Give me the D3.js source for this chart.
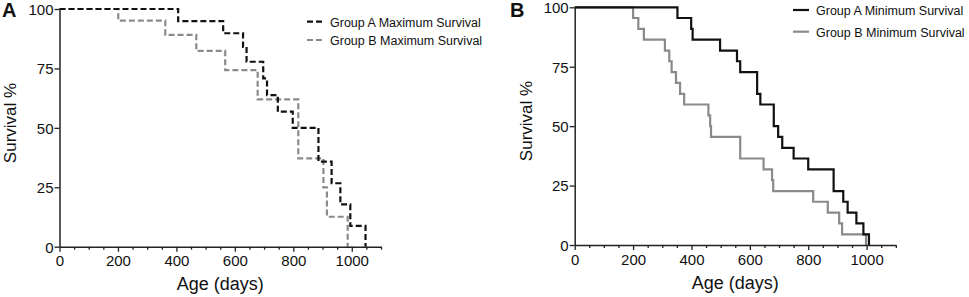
<!DOCTYPE html>
<html lang="en">
<head>
<meta charset="utf-8">
<title>Survival curves</title>
<script src="https://cdn.jsdelivr.net/npm/d3@7"></script>
<style>
  body { margin: 0; background: #fff; }
  svg text { font-family: "Liberation Sans", Arial, sans-serif; fill: #111; }
</style>
</head>
<body>
<script>
// Panel A - maximum survival (days, survival %)
var aMaxDays = [0, 406, 560, 628, 640, 697, 710, 747, 798, 886, 931, 961, 995, 1047];
var aMaxSurv = [100, 94.9, 89.8, 84.1, 77.8, 70.8, 63.8, 56.8, 50, 35.8, 26.7, 17.8, 8.8, 0];
var bMaxDays = [0, 201, 362, 468, 567, 678, 817, 903, 915, 986];
var bMaxSurv = [100, 95.1, 89.1, 82.4, 74.3, 62, 37.2, 25, 12.6, 0];

// Panel B - minimum survival
var aMinDays = [0, 352, 399, 404, 498, 556, 567, 625, 636, 682, 697, 711, 750, 800, 887, 920, 935, 965, 989, 1008];
var aMinSurv = [100, 95.5, 90.9, 86.4, 81.8, 77.3, 72.7, 63.6, 59.1, 50, 45.5, 40.9, 36.4, 31.8, 22.7, 18.2, 13.6, 9.1, 4.5, 0];
var bMinDays = [0, 200, 218, 237, 309, 324, 332, 347, 361, 375, 458, 464, 467, 567, 647, 676, 680, 817, 867, 906, 916, 998];
var bMinSurv = [100, 95.5, 90.9, 86.4, 81.8, 77.3, 72.7, 68.2, 63.6, 59.1, 54.5, 50, 45.5, 36.4, 31.8, 27.3, 22.7, 18.2, 13.6, 9.1, 4.5, 0];

var xMajor = [0, 200, 400, 600, 800, 1000];
var yTicks = [0, 25, 50, 75, 100];

var W = 969, H = 297;
var svg = d3.select('body').append('svg').attr('width', W).attr('height', H);

function zip(days, surv) {
  return days.map(function(d, i) { return { x: d, y: surv[i] }; });
}

var panels = [
  {
    letter: 'A', lx: 2, ly: 17, x0: 59.5, x1: 381, y0: 246.7, y1: 9,
    ylabX: 16, ylabY: 123, xlabY: 290, tickY: 266,
    legX: 307, legY: 21.7, legGap: 18.3,
    series: [
      { name: 'Group A Maximum Survival', data: zip(aMaxDays, aMaxSurv), color: '#111', dash: '6,3' },
      { name: 'Group B Maximum Survival', data: zip(bMaxDays, bMaxSurv), color: '#8a8a8a', dash: '6,3' }
    ]
  },
  {
    letter: 'B', lx: 510, ly: 17, x0: 574.7, x1: 895.8, y0: 245, y1: 7.3,
    ylabX: 532, ylabY: 121, xlabY: 288.5, tickY: 265,
    legX: 793, legY: 10, legGap: 21.7,
    series: [
      { name: 'Group A Minimum Survival', data: zip(aMinDays, aMinSurv), color: '#111', dash: null },
      { name: 'Group B Minimum Survival', data: zip(bMinDays, bMinSurv), color: '#8a8a8a', dash: null }
    ]
  }
];

panels.forEach(function(p) {
  var x = d3.scaleLinear().domain([0, 1100]).range([p.x0, p.x1]);
  var y = d3.scaleLinear().domain([0, 100]).range([p.y0, p.y1]);

  var line = d3.line()
    .x(function(d) { return x(d.x); })
    .y(function(d) { return y(d.y); })
    .curve(d3.curveStepAfter);

  p.series.slice().reverse().forEach(function(s) {
    svg.append('path')
      .datum(s.data)
      .attr('d', line)
      .attr('fill', 'none')
      .attr('stroke', s.color)
      .attr('stroke-width', 2.2)
      .attr('stroke-dasharray', s.dash);
  });

  // minor ticks every 50 days
  var minor = d3.range(50, 1101, 50).filter(function(v) { return v % 200 !== 0; });
  var gMinor = svg.append('g')
    .attr('transform', 'translate(0,' + p.y0 + ')')
    .call(d3.axisBottom(x).tickValues(minor).tickSize(3).tickSizeOuter(0).tickFormat(''));
  gMinor.select('.domain').remove();

  var gx = svg.append('g')
    .attr('transform', 'translate(0,' + p.y0 + ')')
    .call(d3.axisBottom(x).tickValues(xMajor).tickSize(5).tickSizeOuter(0).tickFormat(d3.format('d')));
  var gy = svg.append('g')
    .attr('transform', 'translate(' + p.x0 + ',0)')
    .call(d3.axisLeft(y).tickValues(yTicks).tickSize(5).tickSizeOuter(0).tickPadding(1));

  [gMinor, gx, gy].forEach(function(g) {
    g.selectAll('line').attr('stroke', '#222').attr('stroke-width', 1.3);
    g.selectAll('.domain').attr('stroke', '#222').attr('stroke-width', 1.5);
    g.selectAll('text').attr('font-size', '15px').attr('fill', '#111')
      .attr('font-family', '"Liberation Sans", Arial, sans-serif');
  });
  gx.selectAll('text').attr('y', null).attr('dy', null)
    .attr('transform', 'translate(0,' + (p.tickY - p.y0) + ')');
  gy.selectAll('text').attr('dy', '0.36em');

  svg.append('text')
    .attr('x', p.lx).attr('y', p.ly)
    .attr('font-size', '20px').attr('font-weight', 'bold')
    .text(p.letter);

  svg.append('text')
    .attr('transform', 'translate(' + p.ylabX + ',' + p.ylabY + ') rotate(-90)')
    .attr('text-anchor', 'middle')
    .attr('font-size', '17px')
    .text('Survival %');

  svg.append('text')
    .attr('x', (p.x0 + p.x1) / 2).attr('y', p.xlabY)
    .attr('text-anchor', 'middle')
    .attr('font-size', '18px')
    .text('Age (days)');

  // legend
  p.series.forEach(function(s, i) {
    var ly = p.legY + i * p.legGap;
    svg.append('line')
      .attr('x1', p.legX).attr('x2', p.legX + 16)
      .attr('y1', ly).attr('y2', ly)
      .attr('stroke', s.color).attr('stroke-width', 2.2)
      .attr('stroke-dasharray', s.dash);
    svg.append('text')
      .attr('x', p.legX + 23).attr('y', ly + 5)
      .attr('font-size', '12.5px')
      .text(s.name);
  });
});
</script>
</body>
</html>
